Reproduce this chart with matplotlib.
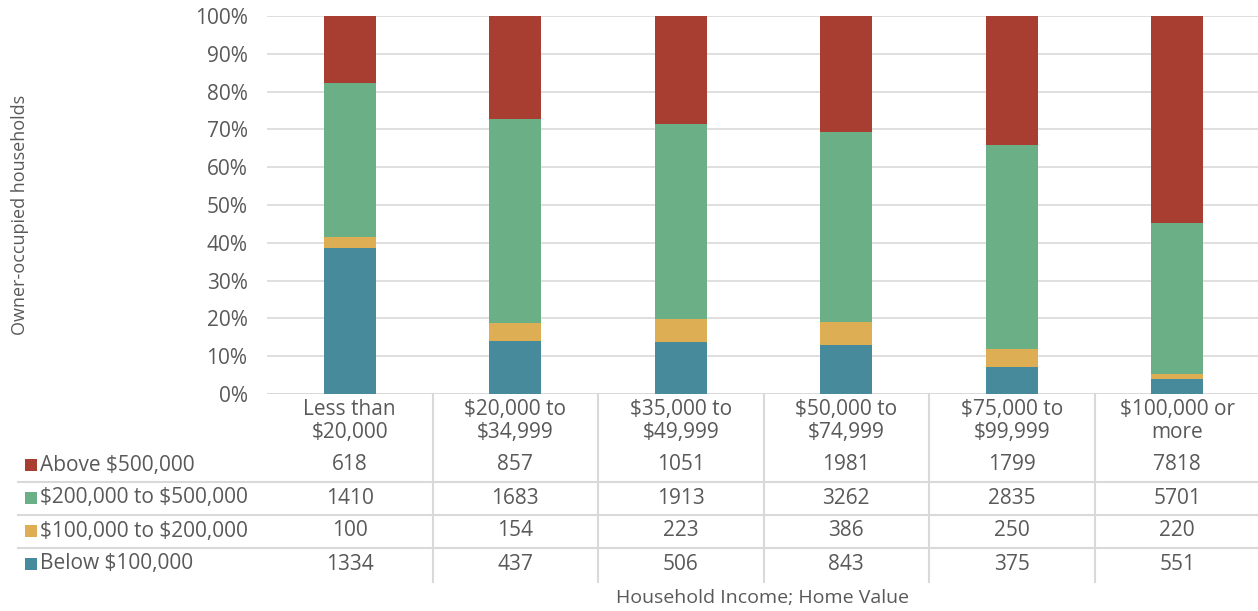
import matplotlib
matplotlib.use("Agg")
import matplotlib.pyplot as plt
import matplotlib.transforms as mtransforms
import numpy as np

plt.rcParams['font.family'] = ['Open Sans', 'DejaVu Sans']

categories = ["Less than\n$20,000", "$20,000 to\n$34,999", "$35,000 to\n$49,999",
              "$50,000 to\n$74,999", "$75,000 to\n$99,999", "$100,000 or\nmore"]
series_names = ["Above $500,000", "$200,000 to $500,000", "$100,000 to $200,000", "Below $100,000"]
above_500k = [618, 857, 1051, 1981, 1799, 7818]
k200_500k = [1410, 1683, 1913, 3262, 2835, 5701]
k100_200k = [100, 154, 223, 386, 250, 220]
below_100k = [1334, 437, 506, 843, 375, 551]
colors = ["#A83D32", "#6AAF86", "#DEAE55", "#478A9B"]

W, H = 1258, 611
fig = plt.figure(figsize=(W / 100, H / 100), dpi=100)
left, right, top, bottom = 267, 1260, 16, 394
ax = fig.add_axes([left / W, 1 - bottom / H, (right - left) / W, (bottom - top) / H])

text_c = "#595959"
grid_c = "#D9D9D9"
FS = 15

series = [above_500k, k200_500k, k100_200k, below_100k]
arr = np.array(series, dtype=float)
tot = arr.sum(axis=0)
pct = arr / tot * 100
x = np.arange(len(categories))
base = np.zeros(len(categories))
for i in [3, 2, 1, 0]:
    ax.bar(x, pct[i], width=0.315, bottom=base, color=colors[i], zorder=3, linewidth=0)
    base += pct[i]

ax.set_xlim(-0.5, len(categories) - 0.5)
ax.set_ylim(0, 100)
ax.set_yticks(np.arange(0, 101, 10))
ax.set_yticklabels([f"{v}%" for v in range(0, 101, 10)], fontsize=FS, color=text_c)
ax.tick_params(axis='y', length=0, pad=14)
ax.set_xticks([])
ax.grid(axis='y', color=grid_c, linewidth=1.2, zorder=0)
for s in ax.spines.values():
    s.set_visible(False)
ax.axhline(0, color=grid_c, linewidth=1.2, zorder=2)

fig.text(20 / W, 1 - 215 / H, "Owner-occupied households", rotation=90, ha='center', va='center',
         fontsize=13, color=text_c)

trans = mtransforms.blended_transform_factory(ax.transData, fig.transFigure)
def fy(p):
    return 1 - p / H

for i, cat in enumerate(categories):
    fig.text(i, fy(421), cat, transform=trans, ha='center', va='center', fontsize=FS,
             color=text_c, linespacing=1.1, parse_math=False)

row_y = [465, 498, 531, 564]
for r, (name, vals) in enumerate(zip(series_names, series)):
    y = row_y[r]
    fig.patches.append(plt.Rectangle((25 / W, fy(y + 6)), 12 / W, 12 / H, transform=fig.transFigure,
                                     color=colors[r], linewidth=0))
    fig.text(40 / W, fy(y), name, ha='left', va='center', fontsize=FS, color=text_c, parse_math=False)
    for i, v in enumerate(vals):
        fig.text(i, fy(y), str(v), transform=trans, ha='center', va='center', fontsize=FS, color=text_c)

for yl in [482, 515, 548]:
    fig.add_artist(plt.Line2D([18 / W, 1], [fy(yl), fy(yl)], transform=fig.transFigure,
                              color=grid_c, linewidth=1.5))
for b in np.arange(0.5, len(categories) - 0.5, 1):
    fig.add_artist(plt.Line2D([b, b], [fy(394), fy(582)], transform=trans, color=grid_c, linewidth=1.5))

fig.text((left + 1258) / 2 / W, fy(598), "Household Income; Home Value", ha='center', va='center',
         fontsize=14, color=text_c)

fig.savefig("out.png", dpi=100)
